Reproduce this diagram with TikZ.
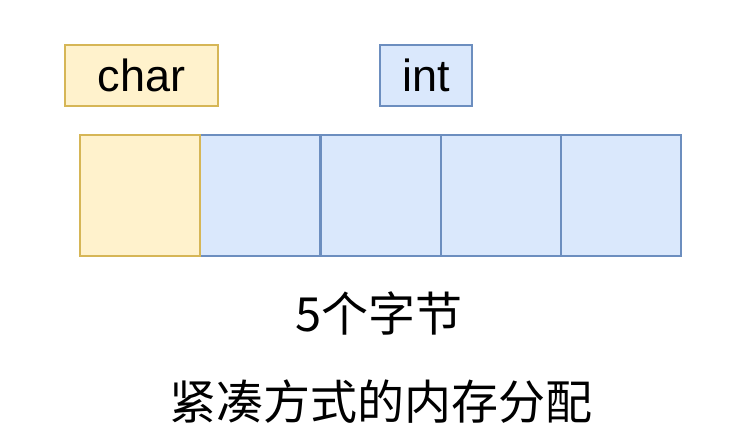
\documentclass[tikz,border=0pt]{standalone}
\usepackage{fontspec}
\setmainfont{Liberation Sans}
\newfontfamily\cjk{Noto Sans CJK SC}
\definecolor{yfill}{HTML}{FFF2CC}
\definecolor{ydraw}{HTML}{D6B656}
\definecolor{bfill}{HTML}{DAE8FC}
\definecolor{bdraw}{HTML}{6C8EBF}
\begin{document}
\begin{tikzpicture}[x=1pt,y=-1pt,
  cell/.style={draw, line width=2.2pt, minimum width=120pt, minimum height=121pt, inner sep=0pt, anchor=north west},
  ycell/.style={cell, fill=yfill, draw=ydraw},
  bcell/.style={cell, fill=bfill, draw=bdraw},
  lab/.style={draw, line width=2.2pt, inner sep=0pt, anchor=north west, font=\fontsize{45}{54}\selectfont},
  captext/.style={font=\cjk\fontsize{47}{56}\selectfont, inner sep=0pt}]
\useasboundingbox (0,0) rectangle (734,442);
\node[lab, fill=yfill, draw=ydraw, minimum width=153pt, minimum height=61pt] (charlab) at (64,44) {char};
\node[lab, fill=bfill, draw=bdraw, minimum width=92pt, minimum height=61pt] (intlab) at (379,44) {int};
\node[bcell] (c2) at (199,134) {};
\node[bcell] (c3) at (320,134) {};
\node[bcell] (c4) at (440,134) {};
\node[bcell] (c5) at (560,134) {};
\node[ycell] (c1) at (79,134) {};
\node[captext] (t1) at (379,313) {5个字节};
\node[captext] (t2) at (381,402) {紧凑方式的内存分配};
\end{tikzpicture}
\end{document}
